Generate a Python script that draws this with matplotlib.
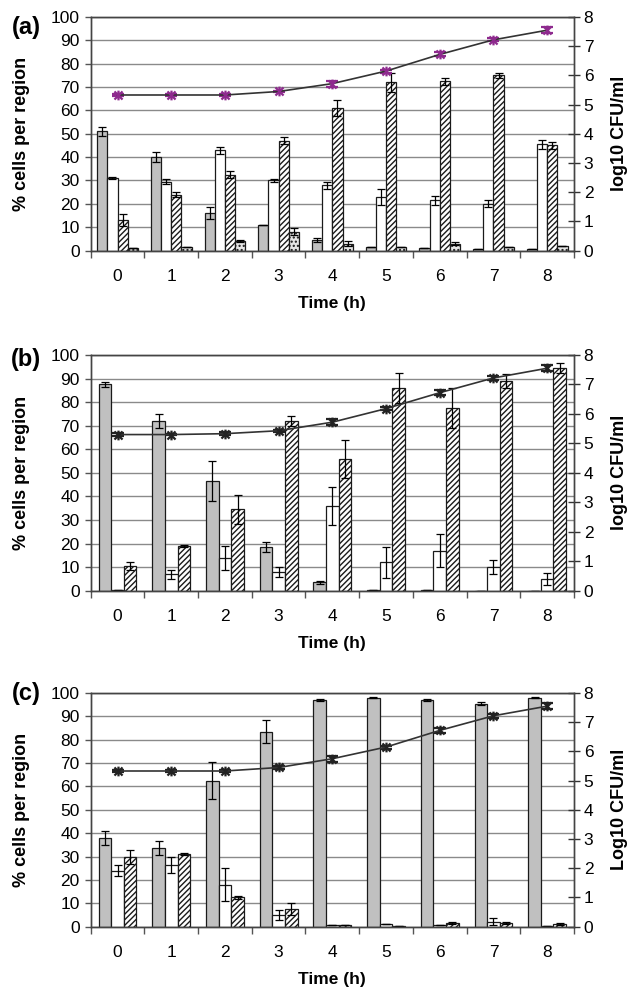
import matplotlib
matplotlib.use('Agg')  # no display
import numpy as np
import matplotlib.pyplot as plt
from matplotlib.path import Path

plt.rcParams['font.family'] = ['Liberation Sans', 'DejaVu Sans']
plt.rcParams['hatch.linewidth'] = 1.0

hours = [0, 1, 2, 3, 4, 5, 6, 7, 8]

# panel (a) - four regions
a_gray = [51, 40, 16, 11, 4.5, 1.5, 1, 0.5, 0.5]
a_gray_err = [2, 2, 2.5, 0, 1, 0, 0, 0, 0]
a_white = [31, 29.5, 43, 30, 28, 23, 21.5, 20, 45.5]
a_white_err = [0.5, 1, 1.5, 0.5, 1.5, 3.5, 2, 1.5, 2]
a_hatch = [13, 24, 32.5, 47, 61, 72, 72.5, 75, 45]
a_hatch_err = [2.5, 1, 1.5, 1.5, 3.5, 4, 1.5, 1, 1.5]
a_dot = [1, 1.5, 4, 8, 3, 1.5, 3, 1.5, 2]
a_dot_err = [0, 0, 0.5, 1.5, 1, 0, 0.5, 0, 0]
a_cfu = [5.33, 5.33, 5.33, 5.45, 5.72, 6.15, 6.72, 7.22, 7.55]
a_cfu_err = [0.05, 0.03, 0.03, 0.03, 0.1, 0.05, 0.07, 0.05, 0.1]

# panel (b)
b_gray = [87.5, 72, 46.5, 18.5, 3.5, 0.5, 0.5, 0, 0]
b_gray_err = [1, 3, 8.5, 2, 0.5, 0, 0, 0, 0]
b_white = [0.5, 7, 14, 8, 36, 12, 17, 10, 5]
b_white_err = [0, 2, 5, 2, 8, 6.5, 7, 3, 2.5]
b_hatch = [10.5, 19, 34.5, 72, 56, 86, 77.5, 89, 94.5]
b_hatch_err = [1.5, 0.5, 6, 2, 8, 6.5, 8.5, 3, 2]
b_cfu = [5.3, 5.3, 5.33, 5.43, 5.72, 6.18, 6.72, 7.22, 7.55]
b_cfu_err = [0.06, 0.03, 0.04, 0.04, 0.1, 0.06, 0.08, 0.06, 0.1]

# panel (c)
c_gray = [38, 33.5, 62.5, 83.5, 97, 98, 97, 95.5, 98]
c_gray_err = [3, 3, 8, 5, 0.3, 0.2, 0.3, 0.5, 0.2]
c_white = [24, 26.5, 18, 5, 0.5, 1, 0.5, 2, 0.2]
c_white_err = [2.5, 3.5, 7, 2, 0, 0, 0, 1.5, 0]
c_hatch = [30, 31, 12.5, 7.5, 0.5, 0.2, 1.5, 1.5, 1]
c_hatch_err = [3, 0.5, 0.5, 2.5, 0, 0, 0.5, 0.5, 0.5]
c_cfu = [5.33, 5.33, 5.33, 5.45, 5.75, 6.15, 6.72, 7.22, 7.55]
c_cfu_err = [0.05, 0.03, 0.04, 0.04, 0.1, 0.05, 0.08, 0.06, 0.1]

# excel style star marker: x with a vertical bar
star = Path([(-1, -1), (1, 1), (-1, 1), (1, -1), (0, -1.2), (0, 1.2)],
            [Path.MOVETO, Path.LINETO, Path.MOVETO, Path.LINETO, Path.MOVETO, Path.LINETO])

bar_styles = [
    dict(color='#c0c0c0'),
    dict(color='white'),
    dict(color='white', hatch='//////'),
    dict(color='#e6e6e6', hatch='....'),
]


def draw_panel(rect, series, errors, cfu, cfu_err, tag, tag_y, right_label, mcolor, width):
    ax = fig.add_axes(rect)
    x = np.arange(len(hours))
    n = len(series)
    offsets = (np.arange(n) - (n - 1) / 2) * width
    for k in range(n):
        ax.bar(x + offsets[k], series[k], width, yerr=errors[k],
               facecolor=bar_styles[k]['color'], hatch=bar_styles[k].get('hatch'),
               edgecolor='#1a1a1a', linewidth=0.9, zorder=2,
               error_kw=dict(ecolor='black', elinewidth=0.9, capsize=3, capthick=0.9))

    ax.set_xlim(-0.5, 8.5)
    ax.set_ylim(0, 100)
    ax.set_yticks(range(0, 101, 10))
    ax.set_axisbelow(True)
    ax.yaxis.grid(True, color='#8a8a8a', linewidth=1.0)
    ax.set_xticks(x)
    ax.set_xticklabels([str(h) for h in hours])
    ax.set_xticks(np.arange(-0.5, 9, 1), minor=True)
    ax.tick_params(axis='x', which='major', length=0, pad=13, labelsize=12.5)
    ax.tick_params(axis='x', which='minor', length=5, width=1, direction='out', color='#555555')
    ax.tick_params(axis='y', length=4, width=1, pad=4, labelsize=12.5, color='#555555')
    for s in ax.spines.values():
        s.set_color('#444444')
        s.set_linewidth(1)
    ax.set_xlabel('Time (h)', fontsize=12.5, fontweight='bold', labelpad=9)
    ax.set_ylabel('% cells per region', fontsize=13, fontweight='bold')
    ax.yaxis.set_label_coords(-0.126, 0.5)
    ax.text(-0.134, tag_y, tag, transform=ax.transAxes, fontsize=17, fontweight='bold',
            ha='center', va='center')

    ax2 = ax.twinx()
    ax2.set_ylim(0, 8)
    ax2.set_yticks(range(0, 9))
    ax2.tick_params(axis='y', direction='inout', length=8, width=1, pad=3,
                    labelsize=12.5, color='#333333')
    ax2.errorbar(x, cfu, yerr=cfu_err, color='#333333', linewidth=1.2,
                 marker=star, markersize=7, markeredgewidth=1.6,
                 markeredgecolor=mcolor, markerfacecolor=mcolor,
                 ecolor=mcolor, elinewidth=1.2, capsize=4, capthick=1.2, zorder=5)
    ax2.set_ylabel(right_label, fontsize=13, fontweight='bold')
    ax2.yaxis.set_label_coords(1.076, 0.5)
    for s in ax2.spines.values():
        s.set_color('#444444')
        s.set_linewidth(1)
    return ax


fig = plt.figure(figsize=(6.28, 9.93), dpi=100)

draw_panel([0.1444, 0.7477, 0.7696, 0.2351],
           [a_gray, a_white, a_hatch, a_dot],
           [a_gray_err, a_white_err, a_hatch_err, a_dot_err],
           a_cfu, a_cfu_err, '(a)', 0.955, 'log10 CFU/ml', '#8e2a8e', 0.19)
draw_panel([0.1444, 0.4051, 0.7696, 0.2374],
           [b_gray, b_white, b_hatch],
           [b_gray_err, b_white_err, b_hatch_err],
           b_cfu, b_cfu_err, '(b)', 0.98, 'log10 CFU/ml', '#222222', 0.235)
draw_panel([0.1444, 0.0668, 0.7696, 0.2353],
           [c_gray, c_white, c_hatch],
           [c_gray_err, c_white_err, c_hatch_err],
           c_cfu, c_cfu_err, '(c)', 1.0, 'Log10 CFU/ml', '#222222', 0.235)

fig.savefig('out.png', dpi=100)
